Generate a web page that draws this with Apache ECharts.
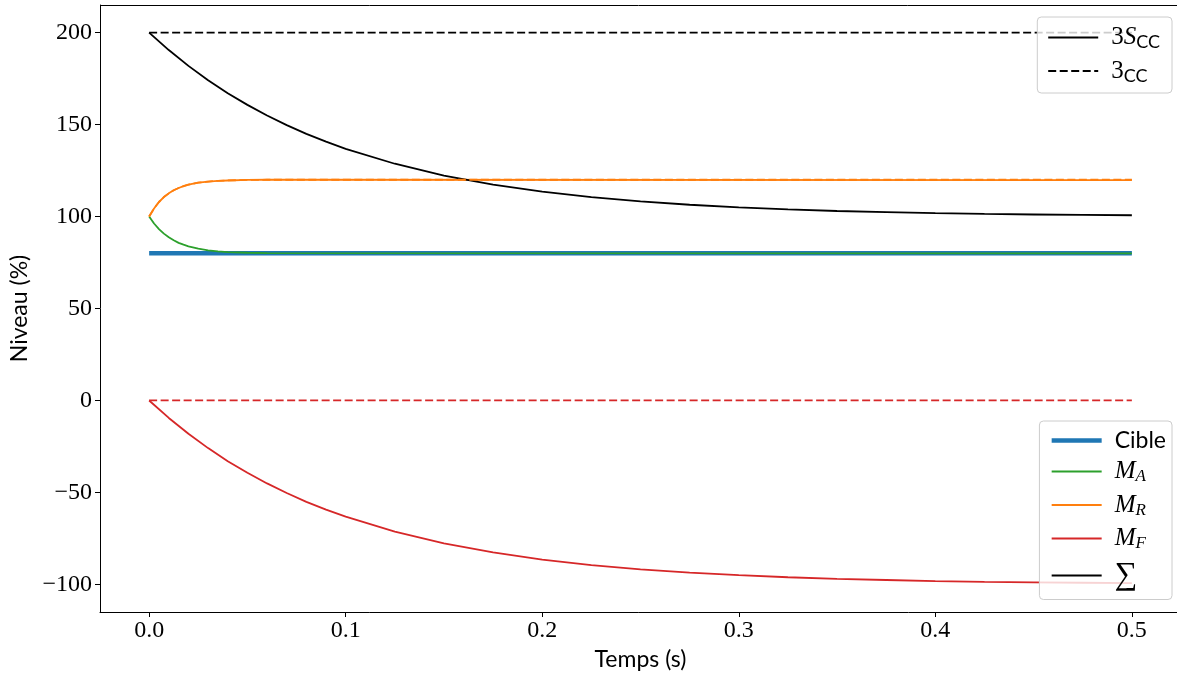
<!DOCTYPE html>
<html>
<head>
<meta charset="utf-8">
<script src="https://cdn.jsdelivr.net/npm/echarts@6/dist/echarts.min.js"></script>
<style>
    html, body { margin: 0; padding: 0; background: #fff; }
    #chart { width: 1177px; height: 674px; }
</style>
</head>
<body>
<div id="chart"></div>
<script>
// temps (s) : pas fin pour les composantes rapides, plus large pour les lentes
var tFast = [0, 0.0025, 0.005, 0.0075, 0.01, 0.0125, 0.015, 0.0175, 0.02, 0.025, 0.03, 0.035, 0.04, 0.05, 0.06, 0.5];
var tSlow = [0, 0.01, 0.02, 0.03, 0.04, 0.05, 0.06, 0.07, 0.08, 0.09, 0.1, 0.125, 0.15, 0.175, 0.2, 0.225, 0.25, 0.275, 0.3, 0.325, 0.35, 0.375, 0.4, 0.425, 0.45, 0.475, 0.5];
var tFlat = [0, 0.5];

// niveaux (%)
var cible = [80, 80];
var mA = [100, 96.2, 93.2, 90.7, 88.7, 87.1, 85.7, 84.7, 83.8, 82.5, 81.6, 81.1, 80.7, 80.3, 80.1, 80];
var mR = [100, 104.4, 107.9, 110.6, 112.6, 114.3, 115.5, 116.5, 117.3, 118.4, 119.0, 119.4, 119.6, 119.9, 120, 119.8];
var mF = [0, -9.5, -18.1, -25.9, -33.0, -39.3, -45.1, -50.3, -55.1, -59.3, -63.2, -71.3, -77.7, -82.6, -86.5, -89.5, -91.8, -93.6, -95.0, -96.1, -97.0, -97.6, -98.2, -98.6, -98.9, -99.1, -99.3];
var somme = [200, 190.5, 181.9, 174.1, 167.0, 160.7, 154.9, 149.7, 144.9, 140.7, 136.8, 128.7, 122.3, 117.4, 113.5, 110.5, 108.2, 106.4, 105.0, 103.9, 103.0, 102.4, 101.8, 101.4, 101.1, 100.9, 100.7];

// consignes (pointillés)
var ccSomme = [200, 200];
var ccR = [100, 104.4, 107.9, 110.6, 112.6, 114.3, 115.5, 116.5, 117.3, 118.4, 119.0, 119.4, 119.6, 119.9, 120, 120];
var ccF = [0, 0];

var xTicks = [0, 0.1, 0.2, 0.3, 0.4, 0.5];
var yTicks = [-100, -50, 0, 50, 100, 150, 200];

var C_BLUE = '#1f77b4', C_ORANGE = '#ff7f0e', C_GREEN = '#2ca02c', C_RED = '#d62728';
var SERIF = '"Liberation Serif", "DejaVu Serif", serif';
var SANS = 'Lato, "Open Sans", sans-serif';
var DASH = [8, 3.5];

var pairs = function (ts, ys) {
    var out = [], i;
    for (i = 0; i < ts.length; i++) {
        out.push([ts[i], ys[i]]);
    }
    return out;
};

var line = function (name, ts, ys, color, width, dash) {
    return {
        name: name,
        type: 'line',
        data: ts ? pairs(ts, ys) : [],
        symbol: 'none',
        silent: true,
        lineStyle: { color: color, width: width, type: dash || 'solid' },
        itemStyle: { color: color }
    };
};

var legendNames = {
    '3Scc': '{n|3}{i|S}{s|CC}',
    '3cc': '{n|3}{s|CC}',
    'Cible': '{t|Cible}',
    'MA': '{i|M}{si|A}',
    'MR': '{i|M}{si|R}',
    'MF': '{i|M}{si|F}',
    'Sum': '{big|\u2211}'
};

var rich = {
    n: { fontFamily: SERIF, fontSize: 25, lineHeight: 28, color: '#000' },
    i: { fontFamily: SERIF, fontStyle: 'italic', fontSize: 25, lineHeight: 28, color: '#000' },
    t: { fontFamily: SANS, fontSize: 23, lineHeight: 28, color: '#000' },
    big: { fontFamily: SERIF, fontSize: 32, lineHeight: 28, color: '#000' },
    s: { fontFamily: SANS, fontSize: 18, lineHeight: 16, verticalAlign: 'bottom', color: '#000' },
    si: { fontFamily: SERIF, fontStyle: 'italic', fontSize: 17, lineHeight: 15, verticalAlign: 'bottom', color: '#000' }
};

var legendBase = function (names, top, padRight) {
    return {
        data: names,
        orient: 'vertical',
        right: 5,
        top: top,
        itemWidth: 50,
        itemHeight: 14,
        itemGap: 7,
        padding: [8, padRight, 8, 10],
        backgroundColor: 'rgba(255,255,255,0.8)',
        borderColor: '#cccccc',
        borderWidth: 1,
        borderRadius: 4,
        selectedMode: false,
        itemStyle: { color: 'transparent', borderWidth: 0, opacity: 0 },
        lineStyle: { width: 'inherit' },
        formatter: function (name) { return legendNames[name]; },
        textStyle: { rich: rich, padding: [0, 0, 0, 8] }
    };
};

var myChart = echarts.init(document.getElementById('chart'), null, { renderer: 'canvas' });

var option = {
    animation: false,
    backgroundColor: '#fff',
    grid: { left: 100, right: -4, top: 5, bottom: 62, containLabel: false, outerBoundsMode: 'none' },
    legend: [
        legendBase(['3Scc', '3cc'], 17, 12),
        legendBase(['Cible', 'MA', 'MR', 'MF', 'Sum'], 421, 6)
    ],
    xAxis: {
        type: 'value',
        min: -0.025,
        max: 0.525,
        name: 'Temps (s)',
        nameLocation: 'middle',
        nameGap: 31,
        nameTextStyle: { fontFamily: SANS, fontSize: 23, color: '#000' },
        axisLine: { show: true, onZero: false, lineStyle: { color: '#000', width: 1 } },
        axisTick: { show: true, customValues: xTicks, length: 5, lineStyle: { color: '#000' } },
        axisLabel: {
            customValues: xTicks,
            margin: 7,
            fontFamily: SERIF,
            fontSize: 24,
            color: '#000',
            formatter: function (v) { return v.toFixed(1); }
        },
        splitLine: { show: false }
    },
    yAxis: {
        type: 'value',
        min: -115,
        max: 215,
        name: 'Niveau (%)',
        nameLocation: 'middle',
        nameGap: 66,
        nameTextStyle: { fontFamily: SANS, fontSize: 23, color: '#000' },
        axisLine: { show: true, onZero: false, lineStyle: { color: '#000', width: 1 } },
        axisTick: { show: true, customValues: yTicks, length: 5, lineStyle: { color: '#000' } },
        axisLabel: {
            customValues: yTicks,
            margin: 8,
            fontFamily: SERIF,
            fontSize: 24,
            color: '#000',
            formatter: function (v) { return v < 0 ? '\u2212' + (-v) : String(v); }
        },
        splitLine: { show: false }
    },
    series: [
        line('Cible', tFlat, cible, C_BLUE, 4.5),
        line('MA', tFast, mA, C_GREEN, 1.8),
        line('MR', tFast, mR, C_ORANGE, 1.8),
        line('MF', tSlow, mF, C_RED, 1.8),
        line('Sum', tSlow, somme, '#000', 1.8),
        line('3cc', tFlat, ccSomme, '#000', 1.8, DASH),
        line('ccR', tFast, ccR, C_ORANGE, 1.8, DASH),
        line('ccF', tFlat, ccF, C_RED, 1.8, DASH),
        line('3Scc', null, null, '#000', 1.8)
    ]
};

// bordure haute du cadre (style matplotlib)
option.graphic = [{
    type: 'line',
    shape: { x1: 100, y1: 5.5, x2: 1177, y2: 5.5 },
    style: { stroke: '#000', lineWidth: 1 },
    silent: true
}];

myChart.setOption(option);
</script>
</body>
</html>
